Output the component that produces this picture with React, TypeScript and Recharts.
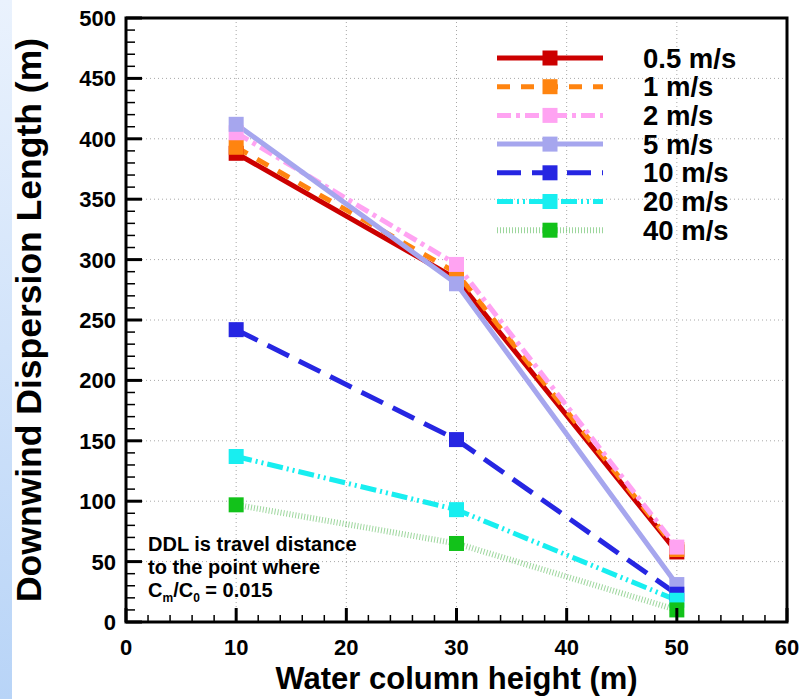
import React from "react";
import { CartesianGrid, Legend, Line, LineChart, ReferenceArea, XAxis, YAxis } from "recharts";

// water column height (m)
const HEIGHTS = [10, 30, 50];

// downwind dispersion length (m) per wind speed
const DDL_05 = [388, 284, 58];
const DDL_1 = [393, 289, 60];
const DDL_2 = [405, 296, 62];
const DDL_5 = [412, 280, 31];
const DDL_10 = [242, 151, 23];
const DDL_20 = [137, 93, 18];
const DDL_40 = [97, 65, 10];

const X_MAJOR = [0, 10, 20, 30, 40, 50, 60];
const X_TICKS = [
  0, 2, 4, 6, 8, 10, 12, 14, 16, 18, 20, 22, 24, 26, 28, 30, 32, 34, 36, 38, 40, 42, 44, 46, 48, 50, 52,
  54, 56, 58, 60,
];
const Y_MAJOR = [0, 50, 100, 150, 200, 250, 300, 350, 400, 450, 500];
const Y_TICKS = [
  0, 10, 20, 30, 40, 50, 60, 70, 80, 90, 100, 110, 120, 130, 140, 150, 160, 170, 180, 190, 200, 210, 220,
  230, 240, 250, 260, 270, 280, 290, 300, 310, 320, 330, 340, 350, 360, 370, 380, 390, 400, 410, 420, 430,
  440, 450, 460, 470, 480, 490, 500,
];

const FONT = '"Liberation Sans", Arial, Helvetica, sans-serif';

type Series = {
  key: string;
  name: string;
  values: number[];
  color: string;
  marker: string;
  width: number;
  dash?: string;
  opacity?: number;
};

const SERIES: Series[] = [
  { key: "s05", name: "0.5 m/s", values: DDL_05, color: "#cc0000", marker: "#cc0000", width: 5 },
  { key: "s1", name: "1 m/s", values: DDL_1, color: "#ff8410", marker: "#ff8410", width: 5, dash: "13 11" },
  { key: "s2", name: "2 m/s", values: DDL_2, color: "#ffa3f2", marker: "#ffa3f2", width: 5, dash: "14 5 4 5" },
  { key: "s5", name: "5 m/s", values: DDL_5, color: "#a6a6ee", marker: "#a6a6ee", width: 5 },
  { key: "s10", name: "10 m/s", values: DDL_10, color: "#2626e2", marker: "#2626e2", width: 5, dash: "24 11" },
  { key: "s20", name: "20 m/s", values: DDL_20, color: "#18eef0", marker: "#18eef0", width: 5, dash: "16 4 2 4 2 4" },
  {
    key: "s40",
    name: "40 m/s",
    values: DDL_40,
    color: "#74c474",
    marker: "#12c21a",
    width: 6,
    dash: "1 2",
    opacity: 0.7,
  },
];

const data = HEIGHTS.map((h, i) => {
  const row: Record<string, number> = { h };
  SERIES.forEach((s) => {
    row[s.key] = s.values[i];
  });
  return row;
});

function XTick(props: any) {
  const { x, y, payload } = props;
  const major = X_MAJOR.includes(payload.value);
  return (
    <g>
      <line x1={x} x2={x} y1={y} y2={y - (major ? 14 : 7)} stroke="#000" strokeWidth={major ? 3 : 1.5} />
      {major && (
        <text x={x} y={y + 33} textAnchor="middle" fontFamily={FONT} fontWeight="bold" fontSize={22} fill="#000">
          {payload.value}
        </text>
      )}
    </g>
  );
}

function YTick(props: any) {
  const { x, y, payload } = props;
  const major = Y_MAJOR.includes(payload.value);
  return (
    <g>
      <line x1={x} x2={x + (major ? 16 : 9)} y1={y} y2={y} stroke="#000" strokeWidth={major ? 3 : 1.5} />
      {major && (
        <text x={x - 10} y={y + 8} textAnchor="end" fontFamily={FONT} fontWeight="bold" fontSize={22} fill="#000">
          {payload.value}
        </text>
      )}
    </g>
  );
}

function LegendBox() {
  return (
    <svg width={300} height={215} style={{ display: "block" }}>
      {SERIES.map((s, i) => {
        const y = 18 + i * 28.7;
        return (
          <g key={s.key}>
            <line
              x1={7}
              x2={113}
              y1={y}
              y2={y}
              stroke={s.color}
              strokeWidth={s.width}
              strokeDasharray={s.dash}
              strokeOpacity={s.opacity ?? 1}
            />
            <rect x={52.5} y={y - 7.5} width={15} height={15} fill={s.marker} />
            <text x={153} y={y + 9.5} fontFamily={FONT} fontWeight="bold" fontSize={27.5} fill="#000">
              {s.name}
            </text>
          </g>
        );
      })}
    </svg>
  );
}

function squareDot(color: string, key: string) {
  return (props: any) => (
    <rect
      key={`${key}-${props.index}`}
      x={props.cx - 7.5}
      y={props.cy - 7.5}
      width={15}
      height={15}
      fill={color}
    />
  );
}

export default function App() {
  return (
    <div style={{ position: "relative", width: 811, height: 699, background: "#fff", overflow: "hidden" }}>
      <style>{`body{margin:0}`}</style>
      <div
        style={{
          position: "absolute",
          left: 0,
          top: 0,
          width: 12,
          height: 699,
          background: "linear-gradient(#eaf2fd, #b8d4f7)",
        }}
      />
      <LineChart width={811} height={699} data={data} margin={{ top: 18, right: 24, bottom: 0, left: 0 }}>
        <CartesianGrid
          horizontalValues={[50, 100, 150, 200, 250, 300, 350, 400, 450]}
          verticalValues={[10, 20, 30, 40, 50]}
          stroke="#a8a8a8"
          strokeDasharray="1 3"
        />
        <XAxis
          dataKey="h"
          type="number"
          domain={[0, 60]}
          ticks={X_TICKS}
          interval={0}
          tickSize={0}
          tickMargin={0}
          tickLine={false}
          axisLine={false}
          height={77}
          tick={<XTick />}
          label={{
            value: "Water column height (m)",
            position: "insideBottom",
            offset: 10,
            style: { fontFamily: FONT, fontWeight: "bold", fontSize: 31, fill: "#000" },
          }}
        />
        <YAxis
          type="number"
          domain={[0, 500]}
          ticks={Y_TICKS}
          interval={0}
          tickSize={0}
          tickMargin={0}
          tickLine={false}
          axisLine={false}
          width={126}
          tick={<YTick />}
          label={{
            value: "Downwind Dispersion Length (m)",
            angle: -90,
            position: "insideLeft",
            offset: 28,
            style: { fontFamily: FONT, fontWeight: "bold", fontSize: 35.5, fill: "#000", textAnchor: "middle" },
          }}
        />
        {SERIES.map((s) => (
          <Line
            key={s.key}
            dataKey={s.key}
            name={s.name}
            type="linear"
            stroke={s.color}
            strokeWidth={s.width}
            strokeDasharray={s.dash}
            strokeOpacity={s.opacity ?? 1}
            dot={squareDot(s.marker, s.key)}
            activeDot={false}
            isAnimationActive={false}
          />
        ))}
        <ReferenceArea x1={0} x2={60} y1={0} y2={500} fill="none" fillOpacity={0} stroke="#000" strokeWidth={3} />
        <Legend
          layout="vertical"
          align="center"
          verticalAlign="middle"
          content={() => <LegendBox />}
          wrapperStyle={{ position: "absolute", left: 490, top: 40, width: 300 }}
        />
      </LineChart>
      <svg
        width={811}
        height={699}
        style={{ position: "absolute", left: 0, top: 0, pointerEvents: "none" }}
      >
        <g fontFamily={FONT} fontWeight="bold" fontSize={20} fill="#000">
          <text x={148} y={551}>DDL is travel distance</text>
          <text x={148} y={574}>to the point where</text>
          <text x={148} y={597}>
            C<tspan fontSize={12} dy={5}>m</tspan>
            <tspan dy={-5}>/C</tspan>
            <tspan fontSize={12} dy={5}>0</tspan>
            <tspan dy={-5}> = 0.015</tspan>
          </text>
        </g>
      </svg>
    </div>
  );
}
